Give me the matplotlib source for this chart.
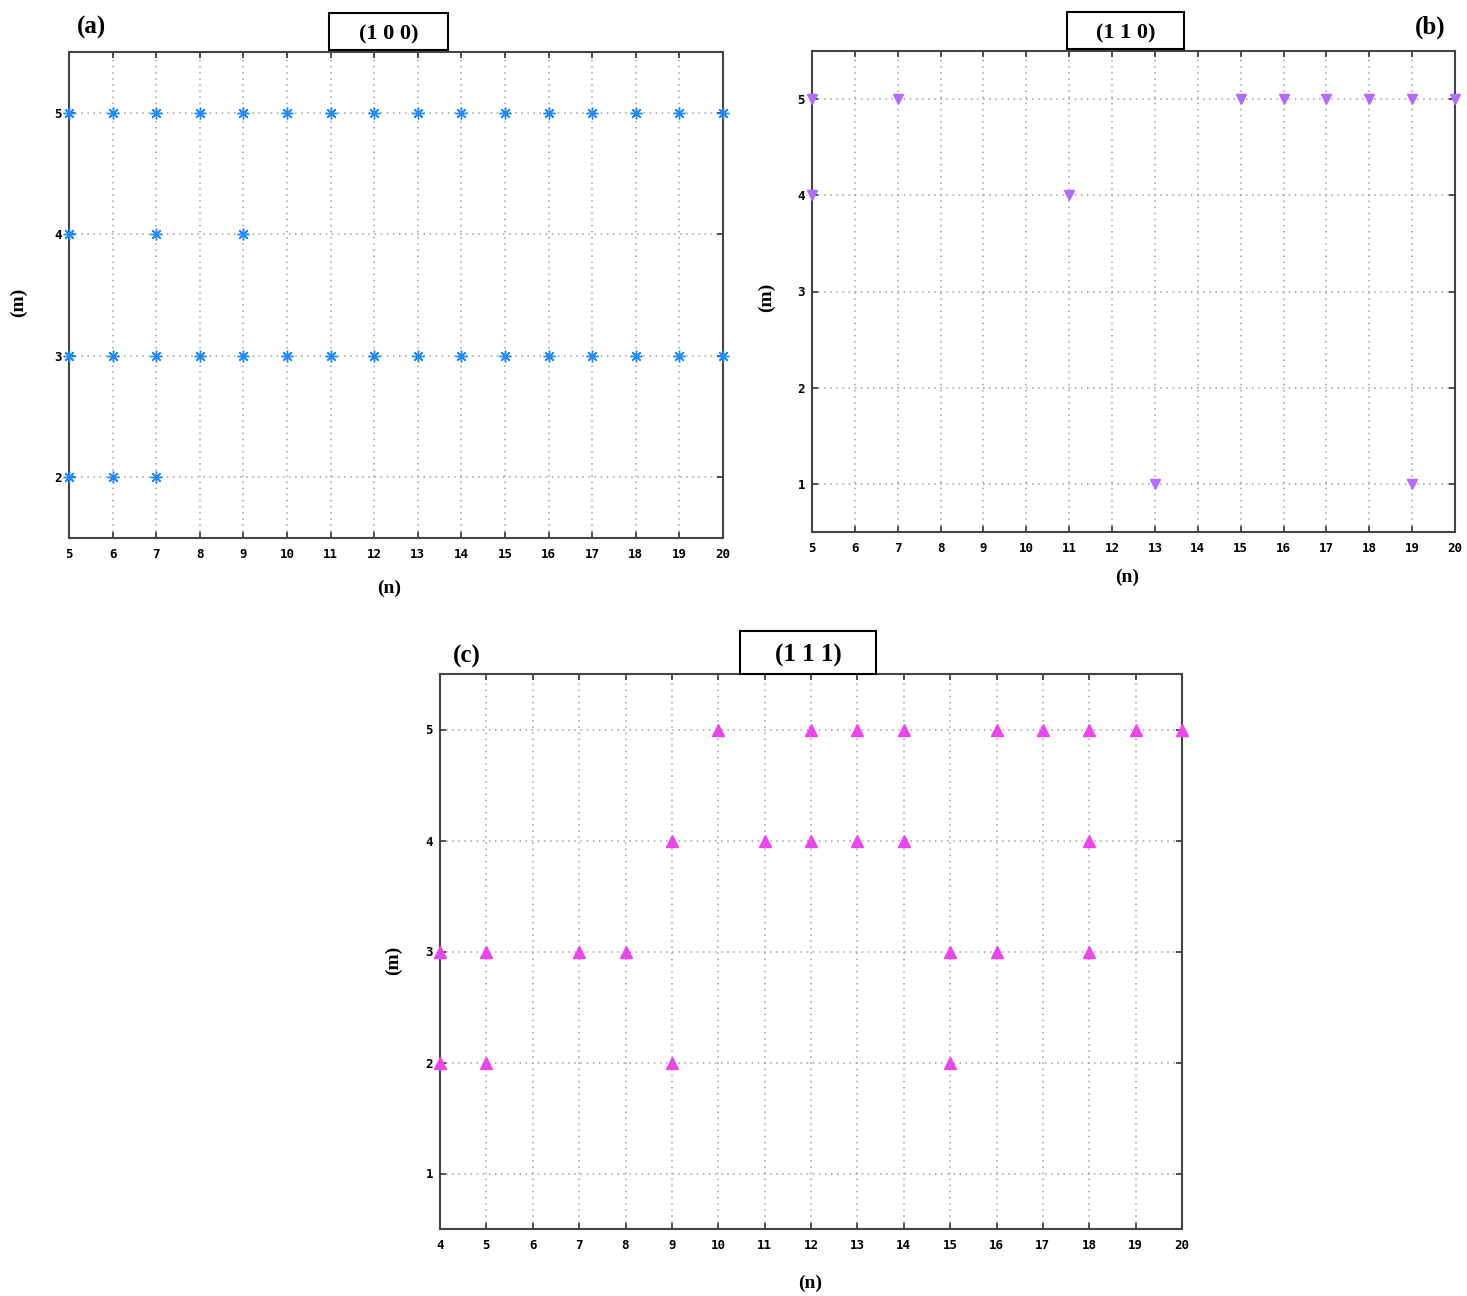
import matplotlib
matplotlib.use('Agg')
import matplotlib.pyplot as plt
from matplotlib.patches import Rectangle

# (1 0 0) panel data
a_n5 = list(range(5, 21))
a_n4 = [5, 7, 9]
a_n3 = list(range(5, 21))
a_n2 = [5, 6, 7]

# (1 1 0) panel data
b_n5 = [5, 7, 15, 16, 17, 18, 19, 20]
b_n4 = [5, 11]
b_n1 = [13, 19]

# (1 1 1) panel data
c_n5 = [10, 12, 13, 14, 16, 17, 18, 19, 20]
c_n4 = [9, 11, 12, 13, 14, 18]
c_n3 = [4, 5, 7, 8, 15, 16, 18]
c_n2 = [4, 5, 9, 15]

a_x = a_n5 + a_n4 + a_n3 + a_n2
a_y = [5]*len(a_n5) + [4]*len(a_n4) + [3]*len(a_n3) + [2]*len(a_n2)
b_x = b_n5 + b_n4 + b_n1
b_y = [5]*len(b_n5) + [4]*len(b_n4) + [1]*len(b_n1)
c_x = c_n5 + c_n4 + c_n3 + c_n2
c_y = [5]*len(c_n5) + [4]*len(c_n4) + [3]*len(c_n3) + [2]*len(c_n2)

W, H = 1467, 1296
fig = plt.figure(figsize=(W/100, H/100), dpi=100)

serif = 'Liberation Serif'
tickfont = {'family': 'DejaVu Sans Mono', 'weight': 'bold', 'size': 9}


def pix_axes(l, t, r, b):
    return fig.add_axes([l/W, 1 - b/H, (r - l)/W, (b - t)/H])


def style_axes(ax, xticks, yticks, xlim, ylim):
    ax.set_xlim(*xlim)
    ax.set_ylim(*ylim)
    ax.set_xticks(xticks)
    ax.set_yticks(yticks)
    ax.set_xticklabels([str(v) for v in xticks], fontdict=tickfont)
    ax.set_yticklabels([str(v) for v in yticks], fontdict=tickfont)
    ax.grid(True, color='#a0a0a0', linestyle=(0, (1, 3)), linewidth=1.1)
    ax.tick_params(direction='in', length=4, width=1.2, color='#333333',
                   top=True, right=True, pad=7)
    ax.tick_params(axis='y', pad=5)
    for s in ax.spines.values():
        s.set_linewidth(1.5)
        s.set_color('#444444')


def title_box(l, t, r, b, txt, size):
    fig.patches.append(Rectangle((l/W, 1 - b/H), (r - l)/W, (b - t)/H,
                                 transform=fig.transFigure, fc='white',
                                 ec='black', lw=1.5, zorder=5))
    fig.text((l + r)/2/W, 1 - ((t + b)/2 + 3)/H, txt, ha='center', va='center',
             fontsize=size, fontweight='bold', family=serif, zorder=6)


def label(x, y, txt, size, rot=0):
    fig.text(x/W, 1 - y/H, txt, ha='center', va='center', fontsize=size,
             fontweight='bold', family=serif, rotation=rot)


# panel (a)
ax1 = pix_axes(69, 52, 723, 538)
style_axes(ax1, list(range(5, 21)), [2, 3, 4, 5], (5, 20), (1.5, 5.5))
ax1.plot(a_x, a_y, linestyle='None', marker=(8, 2, 0), ms=8.5, mew=1.0,
         color='#1e8cff', clip_on=False, zorder=3)
title_box(329, 13, 448, 50, '(1 0 0)', 16)
label(91, 27, '(a)', 18)
label(389, 588, '(n)', 14)
label(18, 302, '(m)', 14, 90)

# panel (b)
ax2 = pix_axes(812, 51, 1455, 532)
style_axes(ax2, list(range(5, 21)), [1, 2, 3, 4, 5], (5, 20), (0.5, 5.5))
ax2.plot(b_x, b_y, linestyle='None', marker='v', ms=7,
         color='#b46bff', clip_on=False, zorder=3)
title_box(1067, 12, 1184, 49, '(1 1 0)', 16)
label(1430, 27, '(b)', 18)
label(1127, 577, '(n)', 14)
label(766, 297, '(m)', 14, 90)

# panel (c)
ax3 = pix_axes(440, 674, 1182, 1229)
style_axes(ax3, list(range(4, 21)), [1, 2, 3, 4, 5], (4, 20), (0.5, 5.5))
ax3.plot(c_x, c_y, linestyle='None', marker='^', ms=8,
         color='#ee44ee', clip_on=False, zorder=3)
title_box(740, 631, 876, 674, '(1 1 1)', 18)
label(467, 656, '(c)', 18)
label(810, 1283, '(n)', 14)
label(393, 960, '(m)', 14, 90)

fig.savefig('out.png', dpi=100)
